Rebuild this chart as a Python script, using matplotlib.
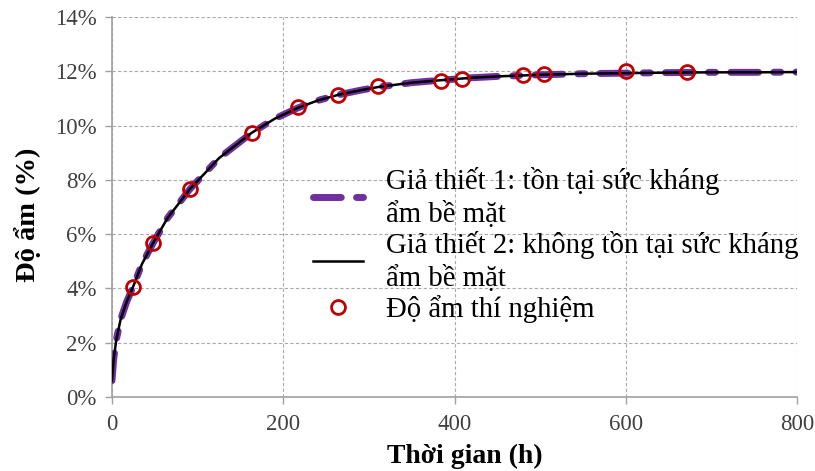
import matplotlib
matplotlib.use("Agg")
import matplotlib.pyplot as plt
from matplotlib.ticker import FuncFormatter

plt.rcParams['font.family'] = ['Liberation Serif', 'DejaVu Serif']

# Model curves
model_t = [0, 2, 5, 10, 17, 24.5, 35, 48, 65, 91, 125, 163, 190, 217, 240, 264,
           290, 311, 350, 384, 420, 450, 500, 550, 600, 650, 700, 750, 800]
model1 = [0.6, 1.4, 2.1, 2.85, 3.5, 4.05, 4.9, 5.67, 6.6, 7.66, 8.8, 9.73, 10.25, 10.65,
          10.92, 11.13, 11.3, 11.42, 11.58, 11.67, 11.76, 11.81, 11.87, 11.91, 11.93,
          11.95, 11.96, 11.96, 11.97]
model2 = [0.6, 1.4, 2.1, 2.85, 3.5, 4.05, 4.9, 5.67, 6.6, 7.66, 8.8, 9.73, 10.25, 10.65,
          10.92, 11.13, 11.3, 11.42, 11.58, 11.67, 11.76, 11.81, 11.87, 11.91, 11.93,
          11.95, 11.96, 11.96, 11.97]

# Experimental points
exp_t = [24.5, 48, 91, 163.5, 217, 264, 311, 384, 408.5, 480, 505, 600, 672]
exp_m = [4.05, 5.67, 7.66, 9.73, 10.69, 11.13, 11.46, 11.64, 11.72, 11.86, 11.90, 12.0, 11.97]

labels = ["Giả thiết 1: tồn tại sức kháng\nẩm bề mặt",
          "Giả thiết 2: không tồn tại sức kháng\nẩm bề mặt",
          "Độ ẩm thí nghiệm"]

fig = plt.figure(figsize=(8.15, 4.71), dpi=100)
ax = fig.add_axes([0.1374, 0.157, 0.8406, 0.807])

l1, = ax.plot(model_t, model1, color='#7030A0', lw=5, dashes=(4, 2.2, 1, 2.2),
              solid_capstyle='round', dash_capstyle='round', zorder=3)
l2, = ax.plot(model_t, model2, color='black', lw=1.8, zorder=4)
l3, = ax.plot(exp_t, exp_m, linestyle='none', marker='o', markersize=10,
              markerfacecolor='none', markeredgecolor='#C00000', markeredgewidth=2, zorder=5)

ax.set_xlim(0, 800)
ax.set_ylim(0, 14)
ax.set_xticks([0, 200, 400, 600, 800])
ax.set_yticks(range(0, 15, 2))
ax.yaxis.set_major_formatter(FuncFormatter(lambda v, p: f"{int(v)}%"))
ax.grid(True, color='#AAAAAA', linestyle=(0, (3, 2)), linewidth=0.8)
ax.set_axisbelow(True)
for s in ['top', 'right']:
    ax.spines[s].set_visible(False)
for s in ['left', 'bottom']:
    ax.spines[s].set_color('#A0A0A0')
    ax.spines[s].set_linewidth(1.2)
ax.tick_params(axis='both', labelsize=16.5, colors='#A0A0A0', labelcolor='#404040',
               length=5, width=1, direction='out')
ax.tick_params(axis='x', pad=7)
ax.tick_params(axis='y', pad=6)

ax.set_xlabel("Thời gian (h)", fontsize=20, fontweight='bold')
ax.xaxis.set_label_coords(0.515, -0.123)
ax.set_ylabel("Độ ẩm (%)", fontsize=20.5, fontweight='bold')
ax.yaxis.set_label_coords(-0.103, 0.48)

leg = ax.legend([l1, l2, l3], labels, loc='upper left', bbox_to_anchor=(0.293, 0.605),
                frameon=False, fontsize=20.7, handlelength=1.75, handletextpad=0.8,
                labelspacing=0.1, borderaxespad=0, borderpad=0)
for t in leg.get_texts():
    t.set_linespacing(1.28)

fig.savefig("out.png", dpi=100)
